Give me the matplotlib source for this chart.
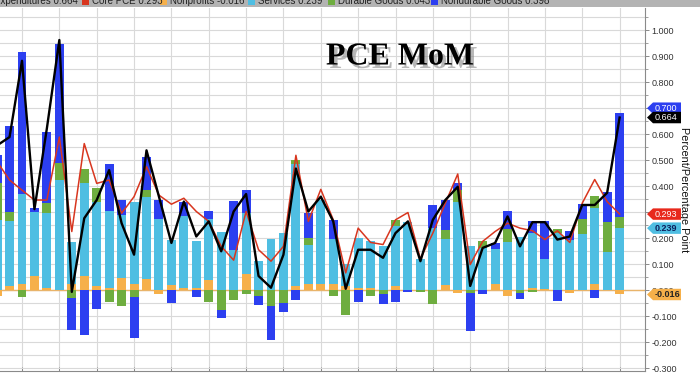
import numpy as np
import matplotlib
matplotlib.use("Agg")
import matplotlib.pyplot as plt
from matplotlib import transforms, patheffects
from matplotlib.patches import Polygon, Rectangle

# ---- data (percentage-point contributions, month over month) ----
nonprofits = [-0.020, 0.017, 0.023, 0.057, 0.010, 0.000, 0.023, 0.055, 0.017, 0.010,
              0.048, 0.023, 0.042, -0.015, 0.020, 0.010, 0.010, 0.038, 0.000, 0.000,
              0.064, 0.000, 0.000, 0.000, 0.017, 0.023, 0.023, 0.023, 0.017, 0.010,
              0.010, 0.000, 0.017, 0.000, 0.000, 0.000, 0.019, -0.009, 0.000, 0.000,
              0.025, -0.022, 0.000, 0.010, 0.006, 0.000, -0.009, 0.000, 0.023, 0.000,
              -0.016]
services = [0.271, 0.251, 0.346, 0.243, 0.289, 0.424, 0.162, 0.356, 0.321, 0.293,
            0.242, 0.318, 0.318, 0.275, 0.174, 0.277, 0.178, 0.235, 0.223, 0.156,
            0.233, 0.112, 0.198, 0.220, 0.470, 0.153, 0.324, 0.174, 0.083, 0.193,
            0.178, 0.172, 0.229, 0.261, 0.122, 0.239, 0.178, 0.341, 0.172, 0.163,
            0.134, 0.184, 0.204, 0.212, 0.115, 0.220, 0.195, 0.216, 0.293, 0.148,
            0.239]
durable = [0.140, 0.033, -0.025, 0.000, 0.036, 0.064, -0.028, 0.057, 0.055, -0.045,
           -0.062, -0.025, 0.025, 0.000, 0.000, 0.000, 0.000, -0.043, -0.076, -0.038,
           -0.013, -0.020, -0.060, -0.047, 0.015, 0.025, 0.000, -0.022, -0.096, 0.000,
           -0.022, -0.015, 0.025, 0.000, -0.006, -0.053, 0.033, 0.045, -0.009, 0.028,
           0.000, 0.051, -0.010, -0.006, 0.000, 0.015, 0.000, 0.059, 0.045, 0.113,
           0.043]
nondurable = [0.108, 0.332, 0.545, 0.015, 0.274, 0.458, -0.125, -0.172, -0.070, 0.181,
              0.057, -0.158, 0.127, 0.073, -0.050, 0.053, -0.025, 0.033, -0.032, 0.187,
              0.089, -0.036, -0.130, -0.036, -0.038, 0.098, 0.000, 0.074, 0.000, -0.045,
              0.000, -0.036, -0.045, -0.006, 0.000, 0.089, 0.117, 0.025, -0.146, -0.013,
              0.023, 0.071, -0.025, 0.046, 0.146, -0.040, 0.032, 0.057, -0.028, 0.115,
              0.398]
expenditures = [0.557, 0.589, 0.882, 0.312, 0.623, 0.962, -0.006, 0.277, 0.347, 0.462,
                0.258, 0.137, 0.538, 0.360, 0.182, 0.341, 0.207, 0.265, 0.150, 0.303,
                0.370, 0.055, 0.010, 0.137, 0.468, 0.303, 0.360, 0.265, 0.006, 0.156,
                0.156, 0.125, 0.220, 0.265, 0.112, 0.271, 0.347, 0.398, 0.017, 0.163,
                0.182, 0.284, 0.169, 0.262, 0.262, 0.195, 0.207, 0.328, 0.328, 0.375,
                0.664]
core_pce = [0.494, 0.424, 0.385, 0.347, 0.347, 0.589, 0.226, 0.564, 0.411, 0.424,
            0.296, 0.360, 0.475, 0.366, 0.331, 0.354, 0.303, 0.265, 0.169, 0.116,
            0.303, 0.156, 0.112, 0.169, 0.519, 0.265, 0.388, 0.271, 0.067, 0.239,
            0.184, 0.176, 0.271, 0.299, 0.121, 0.220, 0.335, 0.447, 0.099, 0.188,
            0.226, 0.258, 0.239, 0.229, 0.195, 0.229, 0.184, 0.335, 0.426, 0.341,
            0.293]
y_ticks = [1.0, 0.9, 0.8, 0.7, 0.6, 0.5, 0.4, 0.3, 0.2, 0.1, 0.0, -0.1, -0.2, -0.3]

C_NONPROF = "#f6b04a"
C_SERV = "#4fbee2"
C_DUR = "#6ead3f"
C_NONDUR = "#2c3ff0"
C_CORE = "#d8361f"
C_EXP = "#000000"

x = np.arange(len(services)) - 2  # period positions

fig = plt.figure(figsize=(7, 3.75), dpi=100)
ax = fig.add_axes([0.0, 1 - 371 / 375, 645 / 700, (371 - 8) / 375])

# stacked bars: positives up from zero, negatives down from zero
pos_base = np.zeros(len(x))
neg_base = np.zeros(len(x))
for vals, col in [(nonprofits, C_NONPROF), (services, C_SERV),
                  (durable, C_DUR), (nondurable, C_NONDUR)]:
    v = np.array(vals)
    base = np.where(v >= 0, pos_base, neg_base)
    ax.bar(x, v, bottom=base, width=0.72, color=col, linewidth=0, zorder=2)
    pos_base = pos_base + np.where(v > 0, v, 0)
    neg_base = neg_base + np.where(v < 0, v, 0)

ax.axhline(0, color="#e9b46a", lw=1.0, zorder=1.8)
ax.plot(x, core_pce, color=C_CORE, lw=1.1, zorder=3)
ax.plot(x, expenditures, color=C_EXP, lw=1.7, zorder=4)

ax.set_xlim(-1.767, 50.04)
ax.set_ylim(-0.31, 1.085)

# grid
ax.set_xticks(np.arange(0, 49, 3))
ax.set_xticklabels([])
ax.set_yticks(y_ticks)
ax.set_yticks(np.arange(-0.3, 1.06, 0.05), minor=True)
ax.grid(True, which="both", axis="y", color="#d9d9d9", lw=0.8, zorder=0)
ax.grid(True, which="major", axis="x", color="#d9d9d9", lw=0.8, zorder=0)
ax.set_axisbelow(True)

ax.yaxis.tick_right()
ax.yaxis.set_label_position("right")
ax.set_yticklabels(["%.3f" % t for t in y_ticks], fontsize=6.5, color="#333333",
                   family="Liberation Sans")
ax.tick_params(axis="y", which="major", length=3, width=0.6, color="#777777", pad=1.5)
ax.tick_params(axis="y", which="minor", length=2, width=0.5, color="#777777")
ax.tick_params(axis="x", which="major", length=3, width=0.6, color="#777777", direction="in")
for s in ["left", "top"]:
    ax.spines[s].set_visible(False)
ax.spines["right"].set_color("#8a8a8a")
ax.spines["right"].set_linewidth(0.8)
ax.spines["bottom"].set_color("#8a8a8a")
ax.spines["bottom"].set_linewidth(0.8)

ax.set_ylabel("Percent/Percentage Point", rotation=270, fontsize=7.8,
              family="Liberation Sans", color="#111111", labelpad=9)

# value tags on the right axis
tr = transforms.blended_transform_factory(fig.transFigure, ax.transData)
h = 0.022
def tag(val, fc, tc, txt, bold=False):
    x0, x1, x2 = 647 / 700, 653 / 700, 681 / 700
    poly = Polygon([(x0, val), (x1, val + h), (x2, val + h), (x2, val - h), (x1, val - h)],
                   closed=True, transform=tr, facecolor=fc, edgecolor="none",
                   clip_on=False, zorder=6)
    ax.add_artist(poly)
    ax.text(655 / 700, val, txt, transform=tr, fontsize=6.5, color=tc,
            va="center", ha="left", family="Liberation Sans",
            fontweight="bold" if bold else "normal", clip_on=False, zorder=7)

tag(0.700, C_NONDUR, "white", "0.700")
tag(expenditures[-1], "#000000", "white", "%.3f" % expenditures[-1])
tag(core_pce[-1], "#e8291c", "white", "%.3f" % core_pce[-1])
tag(services[-1], C_SERV, "#0b1f5c", "%.3f" % services[-1], bold=True)
tag(nonprofits[-1], C_NONPROF, "#222222", "%.3f" % nonprofits[-1], bold=True)

# title
fig.text(400 / 700, 1 - 57 / 375, "PCE MoM", fontsize=23, fontweight="bold",
         family="Liberation Serif", ha="center", va="center", color="black",
         path_effects=[patheffects.withSimplePatchShadow(offset=(2.5, -2.5),
                                                         shadow_rgbFace="#888888",
                                                         alpha=0.6)])

# legend strip (cut off at top of image)
fig.patches.append(Rectangle((0, 1 - 7 / 375), 1, 7 / 375, transform=fig.transFigure,
                             facecolor="#b3b3b3", edgecolor="none", zorder=0))
legend_items = [
    (None, -6, "Expenditures 0.664"),
    (C_CORE, 92, "Core PCE 0.293"),
    (C_NONPROF, 170, "Nonprofits -0.016"),
    (C_SERV, 258, "Services 0.239"),
    (C_DUR, 338, "Durable Goods 0.043"),
    (C_NONDUR, 441, "Nondurable Goods 0.398"),
]
for col, xp, txt in legend_items:
    if col is not None:
        fig.patches.append(Rectangle(((xp - 10) / 700, 1 - 5 / 375), 7 / 700, 8 / 375,
                                     transform=fig.transFigure, facecolor=col,
                                     edgecolor="none", zorder=1))
    fig.text(xp / 700, 1 - 3.5 / 375, txt, fontsize=7, family="Liberation Sans",
             color="#222222", ha="left", va="baseline")

fig.savefig("out.png", dpi=100)
